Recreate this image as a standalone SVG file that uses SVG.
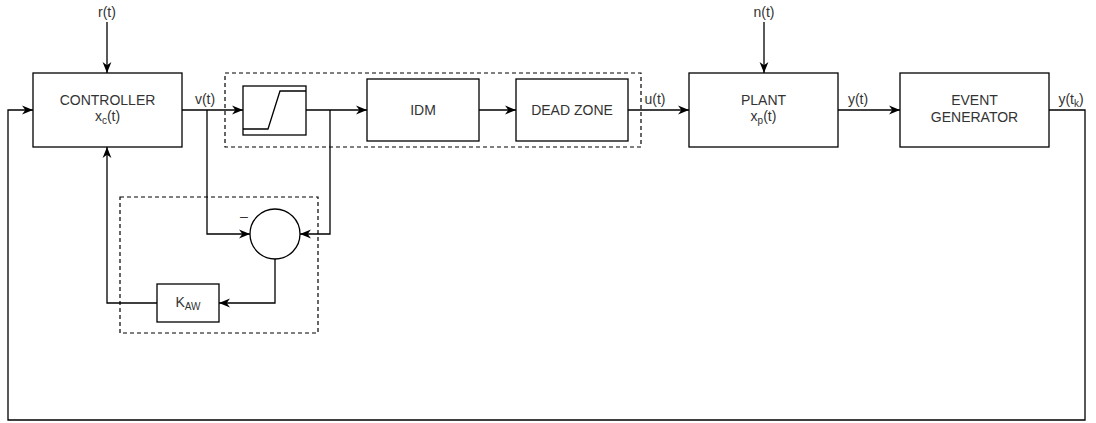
<svg xmlns="http://www.w3.org/2000/svg" width="1096" height="423" viewBox="0 0 1096 423">
<style>
.box{fill:#fff;stroke:#000;stroke-width:1.3}
.dash{fill:none;stroke:#000;stroke-width:1.2;stroke-dasharray:4,3}
.ln{fill:none;stroke:#000;stroke-width:1.3}
text{font-family:"Liberation Sans",Arial,sans-serif;font-size:14px;fill:#333}
.c{text-anchor:middle}
.sub{font-size:10px}
</style>
<defs>
<marker id="ah" viewBox="0 0 10 10" refX="10" refY="5" markerWidth="11" markerHeight="11" markerUnits="userSpaceOnUse" orient="auto">
<path d="M0,1 L10,5 L0,9 L3,5 Z" fill="#000"/>
</marker>
</defs>
<rect width="1096" height="423" fill="#fff"/>
<g id="groups">
<rect class="dash" x="225" y="73" width="416" height="74"/>
<rect class="dash" x="120" y="197" width="198" height="136"/>
</g>
<g id="connectors">
<path class="ln" d="M107,22 V73" marker-end="url(#ah)"/>
<path class="ln" d="M764,22 V73" marker-end="url(#ah)"/>
<path class="ln" d="M182,110 H243" marker-end="url(#ah)"/>
<path class="ln" d="M306,110 H367" marker-end="url(#ah)"/>
<path class="ln" d="M479,110 H516" marker-end="url(#ah)"/>
<path class="ln" d="M628,110 H689" marker-end="url(#ah)"/>
<path class="ln" d="M838,110 H900" marker-end="url(#ah)"/>
<path class="ln" d="M1049,110 H1085 V420 H8 V110 H33" marker-end="url(#ah)"/>
<path class="ln" d="M207,110 V234 H250" marker-end="url(#ah)"/>
<path class="ln" d="M330,110 V234 H300" marker-end="url(#ah)"/>
<path class="ln" d="M275,259 V303 H219" marker-end="url(#ah)"/>
<path class="ln" d="M157,303 H107 V147" marker-end="url(#ah)"/>
</g>
<g id="controller">
<rect class="box" x="33" y="73" width="149" height="74"/>
<text class="c" x="107.5" y="105">CONTROLLER</text>
<text class="c" x="107.5" y="121">x<tspan class="sub" dy="3">c</tspan><tspan dy="-3">(t)</tspan></text>
</g>
<g id="saturation">
<rect class="box" x="243" y="86" width="63" height="49"/>
<path class="ln" d="M243,129 H268 L280,91 H306"/>
</g>
<g id="idm">
<rect class="box" x="367" y="79" width="112" height="62"/>
<text class="c" x="423" y="115">IDM</text>
</g>
<g id="deadzone">
<rect class="box" x="516" y="79" width="112" height="62"/>
<text class="c" x="572" y="115">DEAD ZONE</text>
</g>
<g id="plant">
<rect class="box" x="689" y="73" width="149" height="74"/>
<text class="c" x="763.5" y="105">PLANT</text>
<text class="c" x="763.5" y="121">x<tspan class="sub" dy="3">p</tspan><tspan dy="-3">(t)</tspan></text>
</g>
<g id="eventgen">
<rect class="box" x="900" y="73" width="149" height="74"/>
<text class="c" x="974.5" y="105">EVENT</text>
<text class="c" x="974.5" y="122">GENERATOR</text>
</g>
<g id="sum">
<circle class="box" cx="275" cy="234" r="25"/>
<text class="c" x="244" y="221">–</text>
</g>
<g id="kaw">
<rect class="box" x="157" y="284" width="62" height="38"/>
<text class="c" x="188" y="307">K<tspan class="sub" dy="3">AW</tspan></text>
</g>
<g id="labels">
<text class="c" x="107" y="17">r(t)</text>
<text class="c" x="764" y="17">n(t)</text>
<text class="c" x="205" y="104">v(t)</text>
<text class="c" x="655" y="104">u(t)</text>
<text class="c" x="858" y="104">y(t)</text>
<text class="c" x="1071" y="104">y(t<tspan class="sub" dy="3">k</tspan><tspan dy="-3">)</tspan></text>
</g>
</svg>
